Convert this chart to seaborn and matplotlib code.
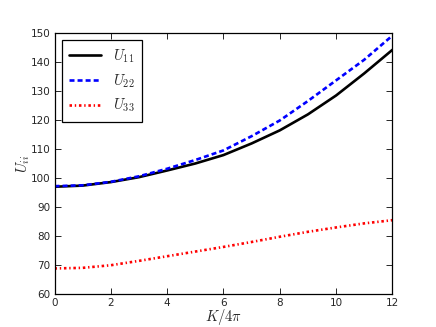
import numpy as np
import pandas as pd
import matplotlib
matplotlib.use("Agg")
import matplotlib.pyplot as plt
import seaborn as sns

# values
K = [0, 1, 2, 3, 4, 5, 6, 7, 8, 9, 10, 11, 12]
U11 = [97.0, 97.4, 98.6, 100.3, 102.6, 105.0, 107.9, 111.9, 116.4, 121.9, 128.4, 136.0, 144.1]
U22 = [97.2, 97.5, 98.7, 100.6, 103.2, 106.2, 109.5, 114.4, 119.8, 126.5, 133.6, 140.7, 149.0]
U33 = [68.9, 69.1, 70.0, 71.5, 73.1, 74.7, 76.3, 78.0, 79.8, 81.5, 83.0, 84.4, 85.5]

sns.set_style("ticks")
plt.rcParams['font.family'] = ['DejaVu Sans']
plt.rcParams['mathtext.fontset'] = 'cm'
plt.rcParams['lines.scale_dashes'] = False

df = pd.DataFrame({'K': K, 'U11': U11, 'U22': U22, 'U33': U33})

fig, ax = plt.subplots(figsize=(4.36, 3.27), dpi=100)
fig.subplots_adjust(left=0.125, right=0.9, bottom=0.1, top=0.9)

sns.lineplot(data=df, x='K', y='U11', color='black', lw=1.9, label=r'$U_{11}$', ax=ax)
sns.lineplot(data=df, x='K', y='U22', color='blue', lw=1.9,
             linestyle=(0, (3.6, 2.2)), label=r'$U_{22}$', ax=ax)
sns.lineplot(data=df, x='K', y='U33', color='red', lw=1.9,
             linestyle=(0, (1.8, 2.0, 1.0, 2.0)), label=r'$U_{33}$', ax=ax)

ax.set_xlim(0, 12)
ax.set_ylim(60, 150)
ax.set_xticks(np.arange(0, 13, 2))
ax.set_yticks(np.arange(60, 151, 10))
ax.tick_params(direction='in', top=True, right=True, length=4, width=0.7,
               labelsize=7.5, pad=3)
for s in ax.spines.values():
    s.set_linewidth(0.9)
    s.set_color('black')

ax.set_xlabel(r'$K/4\pi$', fontsize=10.5, labelpad=-1)
ax.set_ylabel(r'$U_{ii}$', fontsize=10.5, labelpad=-1)

leg = ax.legend(loc='upper left', fancybox=False, edgecolor='black', fontsize=10.5,
                handlelength=2.2, borderpad=0.5, labelspacing=0.5, framealpha=1)
leg.get_frame().set_linewidth(0.9)

fig.savefig('out.png', dpi=100)
